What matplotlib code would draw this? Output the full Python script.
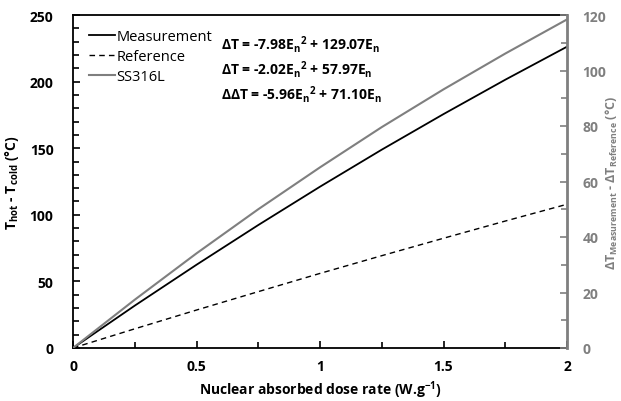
import matplotlib
matplotlib.use("Agg")
import matplotlib.pyplot as plt
from matplotlib.ticker import MultipleLocator

plt.rcParams["font.family"] = ["Open Sans", "DejaVu Sans"]
plt.rcParams["font.weight"] = "bold"
plt.rcParams["axes.unicode_minus"] = False
plt.rcParams["mathtext.fontset"] = "custom"
plt.rcParams["mathtext.rm"] = "Open Sans:bold"
plt.rcParams["mathtext.bf"] = "Open Sans:bold"
plt.rcParams["mathtext.it"] = "Open Sans:bold"

# значения
dose = [0, 0.25, 0.5, 0.75, 1.0, 1.25, 1.5, 1.75, 2.0]
measurement = [0, 31.8, 62.5, 92.3, 121.1, 148.9, 175.6, 201.4, 226.2]
reference = [0, 14.4, 28.5, 42.3, 56.0, 69.3, 82.4, 95.3, 107.9]
ss316l = [0, 17.4, 34.1, 50.0, 65.1, 79.6, 93.2, 106.1, 118.4]

labels = ["Measurement", "Reference", "SS316L"]
equations = [
    "ΔT = -7.98E$_\\mathrm{n}$$^\\mathrm{2}$ + 129.07E$_\\mathrm{n}$",
    "ΔT = -2.02E$_\\mathrm{n}$$^\\mathrm{2}$ + 57.97E$_\\mathrm{n}$",
    "ΔΔT = -5.96E$_\\mathrm{n}$$^\\mathrm{2}$ + 71.10E$_\\mathrm{n}$",
]
gray = "#7f7f7f"

fig = plt.figure(figsize=(6.21, 4.02), dpi=100, facecolor="white")
ax = fig.add_axes([73 / 621, 1 - 349 / 402, (567 - 73) / 621, (349 - 16) / 402])
ax2 = ax.twinx()

l1, = ax.plot(dose, measurement, color="black", lw=1.3, label=labels[0])
l2, = ax.plot(dose, reference, color="black", lw=1.0, ls=(0, (4, 3)), label=labels[1])
l3, = ax2.plot(dose, ss316l, color=gray, lw=1.5, label=labels[2])

ax.set_xlim(0, 2)
ax.set_ylim(0, 250)
ax2.set_ylim(0, 120)

ax.xaxis.set_major_locator(MultipleLocator(0.5))
ax.xaxis.set_minor_locator(MultipleLocator(0.25))
ax.yaxis.set_major_locator(MultipleLocator(50))
ax.yaxis.set_minor_locator(MultipleLocator(10))
ax2.yaxis.set_major_locator(MultipleLocator(20))
ax2.yaxis.set_minor_locator(MultipleLocator(10))

ax.set_xticks([0, 0.5, 1, 1.5, 2])
ax.set_xticklabels(["0", "0.5", "1", "1.5", "2"])

ax.tick_params(axis="both", which="both", direction="in", labelsize=10, width=1.2)
ax.tick_params(axis="x", which="major", length=5, pad=8)
ax.tick_params(axis="x", which="minor", length=4)
ax.tick_params(axis="y", which="major", length=5, pad=14)
ax.tick_params(axis="y", which="minor", length=4)
ax.tick_params(axis="x", which="both", top=False)
ax2.tick_params(axis="y", which="both", direction="in", colors=gray, labelsize=10, width=1.2, pad=11)
ax2.tick_params(axis="y", which="major", length=5)
ax2.tick_params(axis="y", which="minor", length=4)
for lbl in ax.get_xticklabels() + ax.get_yticklabels() + ax2.get_yticklabels():
    lbl.set_fontweight("bold")

for side in ["left", "bottom", "top"]:
    ax.spines[side].set_linewidth(1.3)
ax.spines["right"].set_visible(False)
for side in ["left", "bottom", "top"]:
    ax2.spines[side].set_visible(False)
ax2.spines["right"].set_color(gray)
ax2.spines["right"].set_linewidth(2.0)

ax.set_xlabel("Nuclear absorbed dose rate (W.g$^\\mathrm{-1}$)", fontsize=10, fontweight="bold", labelpad=4)
ax.set_ylabel("T$_\\mathrm{hot}$ - T$_\\mathrm{cold}$ (°C)", fontsize=10, fontweight="bold", labelpad=6)
ax2.set_ylabel("ΔT$_\\mathrm{Measurement}$ - ΔT$_\\mathrm{Reference}$ (°C)",
               fontsize=9, fontweight="bold", color=gray, rotation=90, va="center")
ax2.yaxis.set_label_coords(1.092, 0.5)

leg = ax.legend(handles=[l1, l2, l3], loc="upper left", bbox_to_anchor=(0.02, 0.975),
                frameon=False, handlelength=1.8, handletextpad=0.1,
                labelspacing=0.35, borderaxespad=0,
                prop={"family": "Open Sans", "weight": "normal", "size": 10.5})
for y, eq in zip([0.915, 0.840, 0.765], equations):
    ax.text(0.30, y, eq, transform=ax.transAxes, fontsize=10, fontweight="bold",
            va="center", ha="left")

fig.savefig("out.png", dpi=100, facecolor="white")
